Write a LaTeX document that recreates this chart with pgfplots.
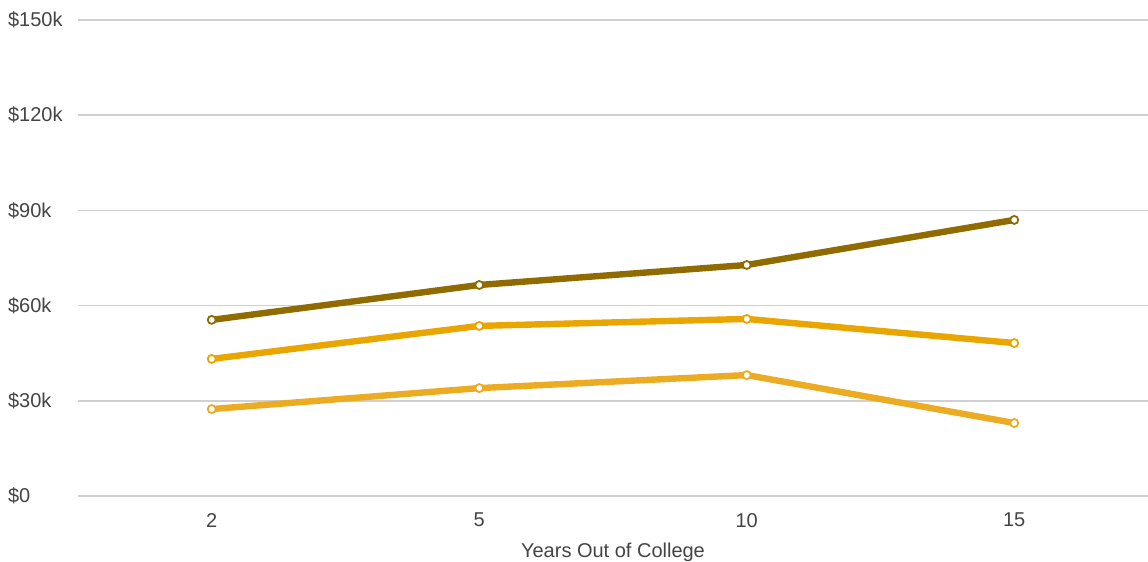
\documentclass[border=0pt]{standalone}
\usepackage{pgfplots}
\pgfplotsset{compat=1.18}
\usepackage{fontspec}
\setmainfont{Liberation Sans}
\definecolor{darkgold}{HTML}{8F6B00}
\definecolor{midgold}{HTML}{E9A500}
\definecolor{lowgold}{HTML}{EBAB22}
\definecolor{gridgray}{HTML}{D0D0D0}
\definecolor{labelgray}{HTML}{444444}

\begin{document}
\begin{tikzpicture}
% fixed frame for the page size (1148 x 562 px at 0.5pt/px)
\path[use as bounding box] (-39pt,-33pt) rectangle (535pt,248pt);
\begin{axis}[
    at={(0,0)}, anchor=south west,
    scale only axis,
    width=535pt, height=238pt,
    xmin=-0.5, xmax=3.5,
    ymin=0, ymax=150,
    xtick={0,1,2,3},
    xticklabels={2,5,10,15},
    ytick={0,30,60,90,120,150},
    yticklabels={\$0,\$30k,\$60k,\$90k,\$120k,\$150k},
    ymajorgrids,
    grid style={gridgray, line width=0.8pt},
    axis line style={draw=none},
    major tick length=0pt,
    tick label style={font=\fontsize{10}{12}\selectfont, text=labelgray},
    yticklabel style={anchor=west, xshift=-38.5pt},
    xticklabel style={yshift=-5pt},
    xlabel={Years Out of College},
    xlabel style={font=\fontsize{10}{12}\selectfont, text=labelgray, yshift=-1pt},
    clip=false,
    every axis plot/.append style={line width=3.2pt, mark=*, mark size=2pt,
        mark options={fill=white, line width=0.9pt}},
]
\addplot[darkgold] coordinates {(0,55.5) (1,66.5) (2,72.8) (3,87.0)};
\addplot[midgold] coordinates {(0,43.2) (1,53.6) (2,55.8) (3,48.2)};
\addplot[lowgold] coordinates {(0,27.4) (1,34.0) (2,38.1) (3,23.0)};
\end{axis}
\end{tikzpicture}
\end{document}
